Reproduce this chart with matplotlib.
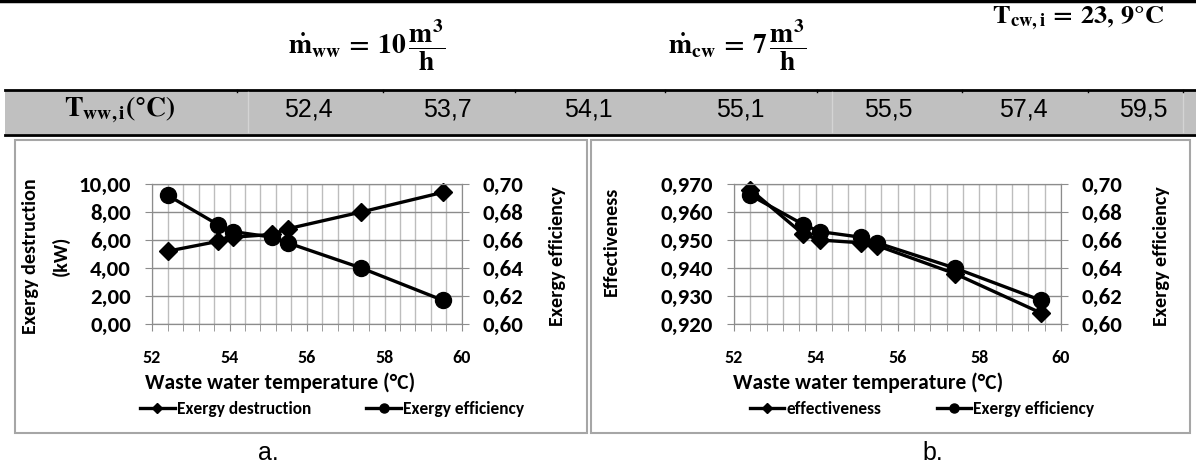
import numpy as np
import matplotlib
matplotlib.use("Agg")
import matplotlib.pyplot as plt
from matplotlib.lines import Line2D
from matplotlib.patches import Rectangle
from matplotlib.ticker import FuncFormatter

plt.rcParams['font.family'] = ['Carlito', 'DejaVu Sans']
plt.rcParams['font.weight'] = 'bold'
plt.rcParams['mathtext.fontset'] = 'stix'

W, H = 1196, 468

# waste water inlet temperatures (degC)
temps = [52.4, 53.7, 54.1, 55.1, 55.5, 57.4, 59.5]
# panel a
exergy_destruction = [5.2, 5.9, 6.2, 6.4, 6.8, 8.0, 9.4]
exergy_efficiency = [0.692, 0.671, 0.666, 0.662, 0.658, 0.640, 0.617]
# panel b
effectiveness = [0.968, 0.952, 0.950, 0.949, 0.948, 0.938, 0.924]

# table cell centres along the grey row (pixels)
cell_x = [308, 447, 588, 740, 888, 1023, 1143]


def fx(x):
    return x / W


def fy(y):
    return 1 - y / H


def comma(decimals):
    return FuncFormatter(lambda v, p: f"{v:.{decimals}f}".replace('.', ','))


def style_axes(ax, ax2):
    ax.set_xlim(52, 60)
    ax.set_xticks(range(52, 61, 2))
    ax.set_xticks(np.arange(52, 60.01, 0.4), minor=True)
    ax.grid(which='both', axis='x', color='#bdbdbd', lw=1)
    ax.grid(which='major', axis='y', color='#8c8c8c', lw=1)
    ax.set_axisbelow(True)
    for a in (ax, ax2):
        for s in a.spines.values():
            s.set_color('#8c8c8c')
        a.tick_params(which='both', color='#8c8c8c', length=5, direction='out')
    ax.tick_params(axis='x', which='minor', length=5)
    ax.tick_params(axis='x', labelsize=13, pad=14)
    ax.tick_params(axis='y', labelsize=16.5, pad=10)
    ax2.tick_params(axis='y', labelsize=16.5, pad=10)
    ax2.set_ylim(0.60, 0.70)
    ax2.set_yticks(np.linspace(0.60, 0.70, 6))
    ax2.yaxis.set_major_formatter(comma(2))


def add_legend(xc, labels):
    handles = [Line2D([], [], color='black', lw=2.4, marker='D', ms=5.5),
               Line2D([], [], color='black', lw=2.4, marker='o', ms=6.5)]
    fig.legend(handles, labels, loc='center', bbox_to_anchor=(fx(xc), fy(409)),
               ncol=2, frameon=False, handlelength=2.0, handletextpad=0.1,
               columnspacing=3.2, prop={'size': 12.5, 'weight': 'bold'})


fig = plt.figure(figsize=(W / 100, H / 100), dpi=100)

# rules and grey header row
fig.add_artist(Line2D([0, 1], [fy(1), fy(1)], color='black', lw=2.5))
fig.add_artist(Rectangle((fx(5), fy(134)), 1 - fx(5), (134 - 90) / H,
                         facecolor='#c0c0c0', edgecolor='none'))
fig.add_artist(Line2D([fx(5), 1], [fy(89.5), fy(89.5)], color='black', lw=2))
fig.add_artist(Line2D([fx(5), 1], [fy(134.5), fy(134.5)], color='black', lw=2))
for xs in [248, 832, 1183]:
    fig.add_artist(Line2D([fx(xs), fx(xs)], [fy(92), fy(132)], color='#d4d4d4', lw=1))
for xs in [237, 383, 515, 665, 817, 962, 1088, 1183]:
    fig.add_artist(Line2D([fx(xs), fx(xs)], [fy(90), fy(92)], color='black', lw=1))

# operating conditions
fig.text(fx(367), fy(45), r'$\mathbf{\dot{m}_{ww}\,=\,10\,\dfrac{m^3}{h}}$',
         fontsize=20, ha='center', va='center')
fig.text(fx(737), fy(45), r'$\mathbf{\dot{m}_{cw}\,=\,7\,\dfrac{m^3}{h}}$',
         fontsize=20, ha='center', va='center')
fig.text(fx(1078), fy(18), r'$\mathbf{T_{cw,i}\,=\,23,\,9°C}$',
         fontsize=19, ha='center', va='center')
fig.text(fx(120), fy(110), r'$\mathbf{T_{ww,i}(°C)}$',
         fontsize=20, ha='center', va='center')
for xc, t in zip(cell_x, temps):
    fig.text(fx(xc), fy(110), f"{t:.1f}".replace('.', ','), fontsize=18,
             family='Liberation Sans', fontweight='normal', ha='center', va='center')

# panel frames
fig.add_artist(Rectangle((fx(15), fy(433)), (587 - 15) / W, (433 - 140) / H,
                         fill=False, edgecolor='#a6a6a6', lw=1.5))
fig.add_artist(Rectangle((fx(591), fy(433)), (1190 - 591) / W, (433 - 140) / H,
                         fill=False, edgecolor='#a6a6a6', lw=1.5))

# panel a: exergy destruction and exergy efficiency
ax = fig.add_axes([fx(152), fy(324), (462 - 152) / W, (324 - 184) / H])
ax2 = ax.twinx()
ax.set_ylim(0, 10)
ax.set_yticks(range(0, 11, 2))
ax.yaxis.set_major_formatter(comma(2))
style_axes(ax, ax2)
ax.plot(temps, exergy_destruction, '-D', color='black', lw=2.4, ms=9, clip_on=False)
ax2.plot(temps, exergy_efficiency, '-o', color='black', lw=2.4, ms=11.5, clip_on=False)
fig.text(fx(46), fy(256), 'Exergy destruction\n(kW)', rotation=90, ha='center',
         va='center', fontsize=14.5, linespacing=1.8)
fig.text(fx(557), fy(256), 'Exergy efficiency', rotation=90, ha='center',
         va='center', fontsize=14.5)
fig.text(fx(280), fy(383), 'Waste water temperature (°C)', ha='center',
         va='center', fontsize=15.5)
add_legend(332, ['Exergy destruction', 'Exergy efficiency'])
fig.text(fx(268), fy(453), 'a.', ha='center', va='center', fontsize=18,
         family='Liberation Sans', fontweight='normal')

# panel b: effectiveness and exergy efficiency
bx = fig.add_axes([fx(734), fy(324), (1061 - 734) / W, (324 - 184) / H])
bx2 = bx.twinx()
bx.set_ylim(0.920, 0.970)
bx.set_yticks(np.linspace(0.920, 0.970, 6))
bx.yaxis.set_major_formatter(comma(3))
style_axes(bx, bx2)
bx.plot(temps, effectiveness, '-D', color='black', lw=2.4, ms=9, clip_on=False)
bx2.plot(temps, exergy_efficiency, '-o', color='black', lw=2.4, ms=11.5, clip_on=False)
fig.text(fx(611), fy(241), 'Effectiveness', rotation=90, ha='center',
         va='center', fontsize=14.5)
fig.text(fx(1161), fy(256), 'Exergy efficiency', rotation=90, ha='center',
         va='center', fontsize=14.5)
fig.text(fx(868), fy(383), 'Waste water temperature (°C)', ha='center',
         va='center', fontsize=15.5)
add_legend(922, ['effectiveness', 'Exergy efficiency'])
fig.text(fx(933), fy(453), 'b.', ha='center', va='center', fontsize=18,
         family='Liberation Sans', fontweight='normal')

fig.savefig('out.png', dpi=100)
